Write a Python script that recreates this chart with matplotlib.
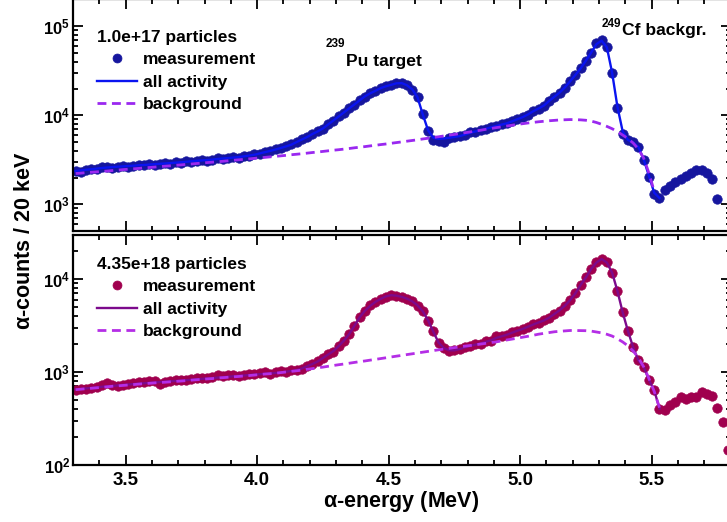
import numpy as np
import matplotlib
matplotlib.use("Agg")
import matplotlib.pyplot as plt
from matplotlib.ticker import MultipleLocator, FixedLocator, FuncFormatter, NullFormatter

plt.rcParams.update({
    "font.family": ["Liberation Sans", "DejaVu Sans"],
    "font.weight": "bold",
    "mathtext.fontset": "custom",
    "mathtext.rm": "Liberation Sans:bold",
    "mathtext.bf": "Liberation Sans:bold",
    "mathtext.it": "Liberation Sans",
    "axes.linewidth": 1.6,
})

# alpha spectra, 20 keV bins starting at 3.31 MeV (bin centres)
E_START = 3.31
E_STEP = 0.02

top_label = "1.0e+17 particles"
top_counts = [
    2390, 2300, 2420, 2510, 2480, 2600, 2620, 2580, 2640, 2700,
    2660, 2710, 2780, 2740, 2820, 2790, 2870, 2920, 2870, 2990,
    2930, 3050, 2990, 3060, 3150, 3110, 3190, 3280, 3230, 3330,
    3390, 3360, 3480, 3510, 3650, 3700, 3890, 3950, 4180, 4260,
    4510, 4720, 4980, 5380, 5650, 6210, 6620, 7050, 7950, 8700,
    9800, 10700, 12100, 13200, 14850, 16200, 17800, 18900, 20100, 21300,
    22000, 22800, 23100, 21800, 19500, 15900, 10300, 6700, 5300, 5100,
    5050, 5500, 5650, 5800, 6050, 6450, 6550, 6800, 7050, 7400,
    7550, 7900, 8100, 8600, 9000, 9600, 10200, 11200, 11900, 12900,
    14400, 16200, 18000, 20500, 24100, 28300, 33700, 41000, 50600, 64600,
    70000, 58400, 29700, 12000, 6170, 5280, 5050, 4430, 3140, 2030,
    1320, 1180, 1440, 1630, 1800, 1940, 2070, 2270, 2450, 2420,
    2260, 1940, 1160,
]
top_fit = [
    2370, 2407, 2451, 2483, 2522, 2562, 2596, 2623, 2650, 2671,
    2699, 2720, 2749, 2770, 2799, 2828, 2858, 2880, 2910, 2941,
    2971, 3010, 3050, 3082, 3114, 3147, 3188, 3238, 3280, 3314,
    3357, 3401, 3464, 3537, 3611, 3735, 3863, 3986, 4134, 4297,
    4479, 4681, 5009, 5346, 5704, 6168, 6582, 7114, 7894, 8757,
    9718, 10780, 11970, 13270, 14730, 16350, 17670, 18860, 20230, 21200,
    22030, 22910, 23030, 21750, 19600, 15920, 10240, 6800, 5600, 5450,
    5500, 5600, 5720, 5850, 6080, 6380, 6600, 6780, 7060, 7350,
    7600, 7874, 8144, 8578, 9062, 9544, 10240, 11120, 11930, 12870,
    14470, 16140, 18000, 20540, 24070, 28350, 33660, 41020, 50620, 63000,
    69000, 58000, 30000, 12500, 6600, 5300, 4950, 4400, 3200, 2080,
    1350, 1180,
]
top_bg = [
    2221, 2244, 2273, 2297, 2321, 2345, 2370, 2401, 2426, 2458,
    2483, 2509, 2535, 2569, 2596, 2623, 2657, 2685, 2713, 2749,
    2777, 2813, 2843, 2880, 2910, 2948, 2979, 3010, 3050, 3090,
    3130, 3170, 3204, 3246, 3288, 3331, 3374, 3419, 3464, 3509,
    3555, 3611, 3658, 3706, 3764, 3823, 3873, 3934, 3996, 4059,
    4112, 4177, 4242, 4320, 4388, 4457, 4539, 4610, 4695, 4769,
    4857, 4946, 5035, 5128, 5222, 5318, 5430, 5530, 5646, 5749,
    5871, 5994, 6103, 6232, 6379, 6512, 6668, 6808, 6969, 7114,
    7283, 7436, 7592, 7752, 7914, 8060, 8208, 8337, 8468, 8578,
    8691, 8782, 8874, 8920, 8966, 8943, 8897, 8805, 8625, 8316,
    7934, 7512, 7077, 6566, 6009, 5487, 4882, 4177, 3305, 2238,
    1402,
]

bot_label = "4.35e+18 particles"
bot_counts = [
    647, 655, 663, 671, 691, 717, 753, 726, 709, 726,
    744, 763, 776, 782, 795, 801, 735, 772, 791, 820,
    815, 812, 840, 870, 863, 860, 891, 925, 905, 933,
    917, 895, 917, 940, 952, 964, 990, 960, 988, 1015,
    1000, 1038, 1051, 1080, 1165, 1205, 1310, 1400, 1560, 1660,
    1920, 2150, 2580, 3100, 3920, 4500, 5200, 5620, 6150, 6450,
    6720, 6580, 6450, 6100, 5800, 5150, 4550, 3560, 2740, 2050,
    1820, 1700, 1720, 1750, 1860, 1890, 1990, 2010, 2130, 2180,
    2457, 2427, 2500, 2680, 2750, 2930, 3040, 3270, 3380, 3600,
    3800, 4230, 4570, 5180, 5880, 7050, 8580, 10450, 12700, 15100,
    16300, 15050, 11700, 7450, 4380, 2760, 1840, 1330, 1130, 821,
    634, 404, 394, 438, 472, 538, 508, 543, 538, 608,
    582, 557, 414, 288, 145,
]
bot_fit = [
    650, 658, 666, 674, 684, 693, 702, 709, 717, 726,
    733, 742, 750, 757, 765, 772, 780, 788, 795, 801,
    809, 817, 825, 833, 844, 852, 860, 871, 880, 888,
    899, 908, 917, 929, 938, 947, 957, 966, 976, 990,
    1007, 1025, 1048, 1090, 1151, 1218, 1295, 1412, 1539, 1677,
    1897, 2173, 2549, 3143, 3875, 4549, 5143, 5675, 6111, 6499,
    6695, 6612, 6418, 6141, 5746, 5207, 4493, 3598, 2712, 2068,
    1806, 1711, 1707, 1762, 1838, 1911, 1968, 2028, 2109, 2199,
    2330, 2420, 2518, 2646, 2779, 2905, 3066, 3237, 3409, 3572,
    3828, 4194, 4605, 5143, 5920, 6998, 8626, 10380, 12790, 15020,
    16370, 15020, 11680, 7441, 4382, 2758, 1842, 1327, 1131, 821,
    634, 404,
]
bot_bg = [
    645, 653, 661, 668, 676, 684, 693, 702, 709, 717,
    724, 732, 741, 748, 755, 763, 770, 776, 784, 791,
    799, 807, 817, 825, 834, 842, 850, 861, 869, 878,
    887, 895, 906, 915, 927, 938, 950, 959, 969, 985,
    1000, 1015, 1030, 1048, 1069, 1087, 1109, 1128, 1151, 1174,
    1197, 1218, 1242, 1267, 1292, 1314, 1341, 1367, 1394, 1422,
    1451, 1480, 1509, 1539, 1569, 1601, 1633, 1665, 1698, 1732,
    1762, 1793, 1828, 1860, 1897, 1925, 1959, 1997, 2032, 2072,
    2109, 2157, 2210, 2259, 2310, 2367, 2421, 2481, 2549, 2600,
    2652, 2705, 2738, 2765, 2793, 2793, 2786, 2779, 2752, 2692,
    2633, 2543, 2433, 2276, 2104, 1911, 1677, 1422, 1134, 852,
    617, 414,
]

entry_labels = ["measurement", "all activity", "background"]
x_ticks = [3.5, 4.0, 4.5, 5.0, 5.5]


def energies(values):
    return E_START + E_STEP * np.arange(len(values))


W, H = 727, 522
fig = plt.figure(figsize=(W / 100, H / 100), dpi=100)


def px_axes(left, top, right, bottom):
    return fig.add_axes([left / W, 1 - bottom / H, (right - left) / W, (bottom - top) / H])


ax_top = px_axes(73, -0.5, 730.5, 231.2)
ax_bot = px_axes(73, 234.6, 730.5, 465)

decade_fmt = FuncFormatter(lambda v, _: r"$10^{%d}$" % int(round(np.log10(v))))

panels = [
    (ax_top, top_counts, top_fit, top_bg, top_label, (500, 2e5), [1e3, 1e4, 1e5],
     "#16169e", "#0a14f0", "#9a28f0", 30),
    (ax_bot, bot_counts, bot_fit, bot_bg, bot_label, (100, 3e4), [1e2, 1e3, 1e4],
     "#a0004e", "#7c0a8c", "#b42ee6", 257),
]

for ax, counts, fit, bg, label, ylim, majors, mcol, lcol, dcol, leg_top in panels:
    pts, = ax.plot(energies(counts), counts, "o", ms=6.8, color=mcol, mec=mcol,
                   mew=0.5, zorder=2)
    fl, = ax.plot(energies(fit), fit, "-", color=lcol, lw=1.7, zorder=3)
    bl, = ax.plot(energies(bg), bg, "--", color=dcol, lw=2.0, dashes=(3.2, 2.0), zorder=4)

    ax.set_yscale("log")
    ax.set_xlim(3.3, 5.8)
    ax.set_ylim(*ylim)
    ax.xaxis.set_major_locator(FixedLocator(x_ticks))
    ax.xaxis.set_minor_locator(MultipleLocator(0.1))
    ax.xaxis.set_major_formatter(FuncFormatter(lambda v, _: "%.1f" % v))
    ax.yaxis.set_major_locator(FixedLocator(majors))
    minors = [m * 10.0 ** d for d in range(1, 6) for m in range(2, 10)]
    ax.yaxis.set_minor_locator(FixedLocator(minors))
    ax.yaxis.set_major_formatter(decade_fmt)
    ax.yaxis.set_minor_formatter(NullFormatter())
    ax.tick_params(which="both", direction="in", top=True, right=True, width=1.3)
    ax.tick_params(which="major", length=7)
    ax.tick_params(which="minor", length=3.5)
    ax.tick_params(axis="y", labelsize=12, pad=2)
    ax.tick_params(axis="x", labelsize=13.5, pad=5)

    ax.legend(
        [pts, fl, bl], entry_labels, title=label,
        loc="upper left",
        bbox_to_anchor=(97 / W, 1 - leg_top / H), bbox_transform=fig.transFigure,
        frameon=False, handlelength=2.3, handletextpad=0.35, labelspacing=0.42,
        borderpad=0, borderaxespad=0, alignment="left", numpoints=1,
        markerscale=0.95,
        prop={"weight": "bold", "size": 12.5},
        title_fontproperties={"weight": "bold", "size": 12.5},
    )

ax_top.tick_params(axis="x", labelbottom=False)

# peak annotations
fig.text(346 / W, 1 - 66 / H, "Pu target", ha="left", va="baseline", fontsize=12.6)
fig.text(345 / W, 1 - 47 / H, "239", ha="right", va="baseline", fontsize=8.5)
fig.text(622 / W, 1 - 35 / H, "Cf backgr.", ha="left", va="baseline", fontsize=12.6)
fig.text(621 / W, 1 - 27 / H, "249", ha="right", va="baseline", fontsize=8.5)

fig.text(25 / W, 1 - 241 / H, r"$\alpha$-counts / 20 keV", rotation=90,
         ha="center", va="center", fontsize=15.5)
fig.text(401 / W, 1 - 502 / H, r"$\alpha$-energy (MeV)", ha="center", va="center",
         fontsize=15.5)

fig.savefig("out.png", dpi=100)
